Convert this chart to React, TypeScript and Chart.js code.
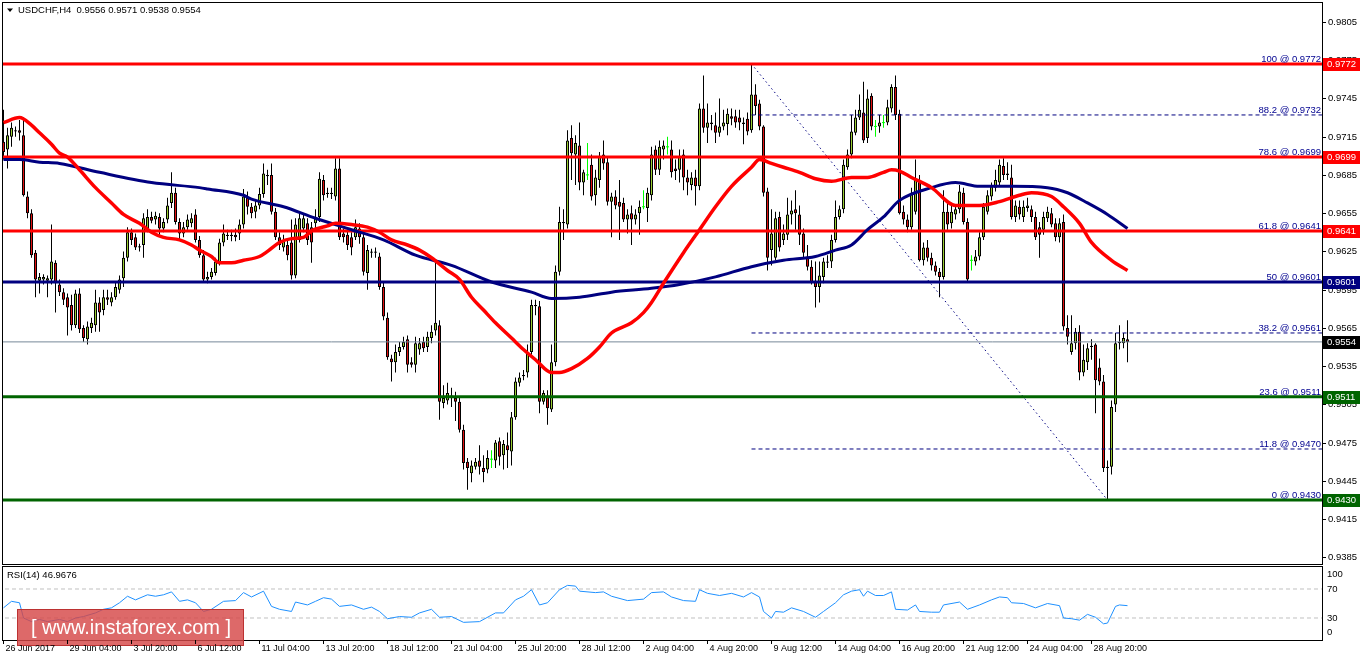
import React, { useEffect, useRef } from 'react';
import { Chart, registerables } from 'chart.js';

Chart.register(...registerables);

const FONT = '"Liberation Sans", Arial, sans-serif';
Chart.defaults.font.family = FONT;

// ---- price data (price x 10000), one value per H4 bar ----
const opens = [
  9711,9705,9715,9719,9720,9716,9668,9655,9624,9602,
  9603,9602,9603,9616,9599,9593,9589,9583,9567,9592,
  9565,9556,9565,9567,9585,9579,9589,9585,9589,9595,
  9604,9620,9640,9636,9629,9630,9642,9652,9650,9652,
  9643,9650,9663,9671,9648,9639,9644,9647,9654,9634,
  9622,9603,9605,9608,9616,9632,9637,9637,9638,9639,
  9646,9667,9660,9656,9661,9670,9684,9685,9656,9636,
  9628,9630,9632,9606,9634,9643,9647,9644,9647,9652,
  9681,9670,9670,9668,9690,9639,9638,9636,9636,9643,
  9636,9608,9624,9624,9621,9597,9573,9541,9538,9546,
  9550,9556,9538,9536,9548,9554,9550,9557,9563,9567,
  9506,9508,9512,9510,9507,9485,9460,9451,9456,9461,
  9455,9454,9462,9461,9476,9465,9473,9468,9495,9522,
  9527,9530,9546,9582,9582,9507,9512,9501,9538,9609,
  9648,9646,9714,9701,9708,9679,9685,9693,9669,9681,
  9701,9695,9664,9668,9664,9663,9650,9655,9650,9655,
  9660,9659,9669,9705,9689,9705,9707,9705,9690,9689,
  9701,9683,9677,9683,9676,9737,9722,9726,9724,9718,
  9723,9725,9731,9731,9730,9725,9729,9720,9748,9741,
  9723,9672,9626,9620,9652,9634,9638,9654,9658,9654,
  9639,9621,9613,9601,9597,9605,9617,9617,9634,9652,
  9658,9691,9701,9718,9730,9734,9714,9747,9723,9723,
  9726,9726,9737,9754,9733,9656,9650,9644,9656,9681,
  9618,9628,9620,9614,9609,9605,9656,9647,9654,9658,
  9671,9648,9618,9617,9621,9636,9656,9668,9675,9679,
  9692,9686,9683,9652,9660,9652,9659,9658,9652,9644,
  9642,9651,9655,9647,9636,9648,9565,9546,9553,9562,
  9530,9538,9550,9552,9534,9523,9456,9456,9505,9553,
  9553,9556,
];
const highs = [
  9736,9722,9726,9723,9728,9730,9672,9658,9626,9608,
  9607,9606,9646,9618,9603,9596,9592,9591,9595,9596,
  9567,9570,9573,9595,9589,9595,9595,9593,9601,9606,
  9625,9644,9643,9639,9631,9655,9658,9656,9656,9655,
  9651,9667,9687,9675,9651,9648,9654,9655,9658,9637,
  9626,9609,9612,9620,9635,9646,9642,9642,9643,9650,
  9674,9672,9663,9665,9675,9694,9689,9694,9659,9640,
  9638,9634,9650,9651,9655,9655,9651,9648,9658,9687,
  9685,9675,9675,9698,9698,9643,9642,9640,9650,9647,
  9640,9630,9627,9628,9624,9601,9577,9544,9552,9554,
  9558,9559,9542,9558,9557,9558,9562,9567,9618,9571,
  9520,9522,9518,9515,9510,9489,9463,9461,9463,9473,
  9465,9469,9469,9477,9479,9477,9483,9499,9526,9530,
  9532,9552,9587,9587,9586,9516,9516,9552,9614,9660,
  9658,9720,9724,9716,9726,9689,9710,9701,9689,9703,
  9712,9699,9671,9673,9681,9667,9658,9661,9658,9665,
  9673,9675,9707,9708,9712,9712,9715,9712,9697,9705,
  9705,9689,9687,9689,9741,9763,9741,9732,9734,9745,
  9736,9737,9737,9736,9736,9730,9734,9772,9756,9744,
  9724,9675,9658,9656,9656,9646,9667,9665,9673,9661,
  9643,9630,9618,9617,9617,9620,9622,9638,9665,9661,
  9697,9705,9732,9736,9748,9758,9752,9749,9728,9732,
  9732,9744,9756,9763,9736,9661,9654,9675,9697,9685,
  9632,9634,9624,9617,9612,9673,9665,9661,9661,9677,
  9675,9651,9622,9626,9640,9663,9673,9679,9689,9697,
  9698,9695,9693,9665,9665,9665,9667,9661,9656,9648,
  9656,9660,9659,9651,9651,9654,9575,9575,9565,9567,
  9552,9553,9556,9553,9541,9528,9461,9508,9561,9567,
  9561,9571,
];
const lows = [
  9697,9690,9707,9715,9712,9668,9651,9620,9589,9592,
  9599,9589,9599,9577,9590,9583,9559,9563,9565,9561,
  9554,9552,9561,9562,9562,9575,9583,9582,9587,9592,
  9597,9617,9630,9626,9625,9620,9640,9647,9646,9638,
  9640,9647,9659,9646,9634,9636,9642,9644,9632,9620,
  9601,9600,9603,9606,9614,9629,9634,9633,9633,9634,
  9643,9654,9651,9651,9658,9667,9677,9654,9634,9626,
  9625,9618,9603,9604,9632,9640,9630,9616,9643,9648,
  9665,9667,9666,9665,9634,9632,9626,9622,9634,9631,
  9606,9595,9620,9620,9595,9571,9540,9523,9530,9543,
  9548,9530,9534,9530,9544,9546,9546,9553,9559,9493,
  9502,9505,9503,9492,9483,9454,9438,9444,9454,9450,
  9444,9451,9455,9455,9457,9454,9455,9457,9493,9519,
  9524,9526,9544,9575,9498,9505,9489,9499,9535,9606,
  9634,9643,9681,9677,9673,9669,9681,9665,9661,9675,
  9689,9661,9636,9658,9634,9648,9639,9630,9646,9638,
  9658,9648,9665,9685,9685,9697,9701,9683,9681,9679,
  9673,9669,9673,9661,9673,9718,9710,9720,9710,9715,
  9720,9716,9724,9722,9720,9709,9716,9718,9732,9720,
  9668,9610,9614,9618,9625,9630,9634,9646,9642,9630,
  9620,9610,9599,9581,9585,9600,9612,9612,9632,9650,
  9655,9689,9698,9716,9728,9710,9710,9720,9715,9718,
  9722,9724,9734,9728,9654,9646,9640,9642,9654,9617,
  9614,9617,9610,9606,9589,9603,9642,9643,9650,9655,
  9646,9601,9610,9614,9618,9634,9654,9665,9672,9676,
  9681,9681,9650,9648,9650,9648,9656,9648,9634,9620,
  9638,9648,9644,9633,9632,9563,9552,9544,9548,9524,
  9527,9532,9540,9498,9520,9452,9430,9450,9499,9548,
  9549,9538,
];
const closes = [
  9703,9716,9722,9720,9718,9669,9655,9622,9603,9605,
  9605,9604,9617,9600,9593,9587,9581,9567,9592,9564,
  9557,9566,9569,9585,9577,9589,9587,9589,9597,9603,
  9620,9640,9634,9628,9628,9651,9652,9649,9653,9643,
  9648,9661,9671,9648,9639,9644,9650,9651,9634,9622,
  9603,9605,9609,9617,9632,9639,9638,9638,9636,9646,
  9668,9660,9655,9661,9670,9686,9685,9656,9636,9630,
  9634,9622,9606,9646,9651,9651,9634,9632,9652,9682,
  9669,9671,9671,9690,9636,9636,9630,9628,9644,9636,
  9609,9626,9625,9625,9597,9574,9542,9538,9546,9550,
  9554,9536,9536,9553,9553,9549,9558,9562,9569,9507,
  9510,9514,9510,9507,9485,9459,9455,9457,9460,9456,
  9452,9463,9462,9475,9464,9474,9469,9495,9523,9526,
  9528,9545,9583,9583,9507,9514,9502,9538,9609,9648,
  9647,9712,9702,9710,9679,9687,9685,9668,9683,9699,
  9694,9664,9668,9661,9660,9650,9654,9650,9654,9660,
  9660,9671,9701,9689,9707,9708,9707,9687,9688,9699,
  9683,9679,9683,9676,9737,9722,9726,9725,9718,9723,
  9726,9733,9729,9726,9726,9726,9719,9748,9739,9723,
  9671,9620,9639,9651,9628,9639,9654,9657,9655,9638,
  9624,9613,9601,9597,9606,9617,9616,9634,9652,9658,
  9693,9701,9719,9730,9736,9712,9745,9723,9723,9726,
  9726,9738,9754,9732,9655,9650,9644,9671,9681,9618,
  9628,9620,9614,9609,9605,9656,9646,9656,9658,9672,
  9648,9603,9618,9621,9636,9660,9669,9676,9681,9693,
  9685,9685,9652,9661,9654,9660,9661,9652,9636,9638,
  9652,9656,9646,9636,9647,9566,9558,9553,9562,9530,
  9540,9549,9551,9524,9523,9455,9455,9503,9553,9554,
  9557,9554,
];

// moving averages (bar index, value)
const redMaBars = [0,4,7,9,12,14,16,19,23,27,30,34,37,40,44,47,49,52,54,57,60,64,66,69,72,75,77,81,83,87,91,94,97,101,104,107,111,114,117,120,123,127,130,133,137,139,142,146,149,152,157,160,162,165,170,174,178,182,187,189,192,195,199,203,207,212,216,220,222,224,227,232,238,244,249,254,257,262,265,269,272,277,281];
const redMaValues = [9726,9730,9724,9718,9709,9702,9699,9689,9675,9663,9654,9647,9640,9636,9634,9630,9626,9621,9616,9616,9618,9621,9625,9632,9635,9636,9641,9645,9647,9646,9644,9640,9634,9630,9626,9620,9610,9603,9589,9579,9569,9557,9548,9540,9530,9530,9533,9541,9550,9561,9569,9577,9585,9600,9624,9642,9660,9676,9691,9697,9694,9691,9687,9682,9680,9683,9683,9687,9689,9688,9683,9675,9661,9661,9664,9669,9671,9668,9660,9647,9632,9618,9610];
const navyMaBars = [0,4,9,14,24,37,49,51,60,62,70,78,87,95,103,112,122,132,137,144,152,162,169,178,187,195,203,208,212,216,220,224,232,238,244,252,261,266,271,276,281];
const navyMaValues = [9697,9697,9695,9694,9687,9679,9675,9674,9669,9666,9660,9651,9642,9634,9622,9614,9601,9593,9588,9589,9593,9596,9599,9605,9613,9618,9621,9626,9630,9642,9652,9665,9675,9679,9676,9676,9675,9671,9663,9654,9643];

// RSI(14)
const rsiBars = [0,2,4,5,7,9,11,14,16,18,20,23,25,27,29,31,33,36,38,40,42,44,46,48,50,52,55,58,60,62,65,67,69,72,73,76,78,80,82,84,87,90,92,94,96,99,102,104,107,109,112,115,119,123,125,128,130,132,134,136,139,141,143,144,148,150,152,156,160,162,165,167,170,173,174,176,179,182,185,187,189,190,192,193,195,197,200,203,205,208,210,212,214,215,216,218,220,222,223,226,228,229,232,234,235,239,241,244,247,249,251,252,255,258,261,264,265,267,269,271,273,275,276,278,279,281];
const rsiValues = [44,53,51,30,25,28,25,28,25,30,32,37,42,44,51,60,55,62,60,62,66,53,55,51,39,42,53,54,65,59,67,46,42,39,52,48,53,58,56,46,48,42,45,39,29,32,31,37,42,31,32,24,25,37,37,55,60,69,48,51,69,75,74,67,65,66,60,54,56,65,66,59,54,53,69,64,61,64,59,65,59,39,30,39,38,44,39,31,39,51,62,67,69,60,67,61,61,66,42,41,48,39,38,38,48,52,42,48,55,59,58,51,50,44,50,47,30,29,27,35,31,22,23,46,48,47];
const rsiLastText = '46.9676';
const rsiLevels = [70, 30];
const rsiAxisLabels = [100, 70, 30, 0];

// levels
const levelPrices = [9772, 9699, 9641, 9601, 9511, 9430];
const levelColors = ['#ff0000', '#ff0000', '#ff0000', '#000080', '#006400', '#006400'];
const fibLevels = [100, 88.2, 78.6, 61.8, 50, 38.2, 23.6, 11.8, 0];
const fibPrices = [9772, 9732, 9699, 9641, 9601, 9561, 9511, 9470, 9430];
const fibStartBar = 187;
const fibEndBar = 276;
const lastPrice = 9554;
const tagPrices = [9772, 9699, 9641, 9601, 9554, 9511, 9430];
const tagColors = ['#ff0000', '#ff0000', '#ff0000', '#000080', '#000000', '#006400', '#006400'];

// axes
const yTicks = [9385, 9415, 9445, 9475, 9505, 9535, 9565, 9595, 9625, 9655, 9685, 9715, 9745, 9775, 9805];
const xTickLabels = ['26 Jun 2017', '29 Jun 04:00', '3 Jul 20:00', '6 Jul 12:00', '11 Jul 04:00', '13 Jul 20:00', '18 Jul 12:00', '21 Jul 04:00', '25 Jul 20:00', '28 Jul 12:00', '2 Aug 04:00', '4 Aug 20:00', '9 Aug 12:00', '14 Aug 04:00', '16 Aug 20:00', '21 Aug 12:00', '24 Aug 04:00', '28 Aug 20:00'];
const xTickEvery = 16;
const symbolText = 'USDCHF,H4';

const X_MIN = -0.375;
const X_MAX = 329.625;
const P_MIN = 9379.8;
const P_MAX = 9820.6;
const BULL = '#9acd32';
const BEAR = '#e01010';
const DOJI = '#00ff00';
const LABEL_FONT = `9.5px ${FONT}`;
const TIME_FONT = `9px ${FONT}`;

const fmt = (v: number) => (v / 10000).toFixed(4);
const bars = opens.map((_, i) => i);

const hLine = (v: number, color: string, width: number, order: number, from = X_MIN - 1, dash: number[] = []) => ({
  type: 'line',
  data: [{ x: from, y: v }, { x: X_MAX + 1, y: v }],
  borderColor: color,
  borderWidth: width,
  borderDash: dash,
  pointRadius: 0,
  clip: 0,
  order,
});

const mainOverlay = {
  id: 'mainOverlay',
  afterDraw(chart: any) {
    const { ctx, chartArea: a, scales } = chart;
    const ys = scales.y;
    ctx.save();
    ctx.strokeStyle = '#000';
    ctx.lineWidth = 1;
    ctx.strokeRect(a.left + 0.5, a.top + 0.5, a.right - a.left, a.bottom - a.top);

    ctx.font = LABEL_FONT;
    ctx.textAlign = 'left';
    ctx.textBaseline = 'middle';
    ctx.fillStyle = '#000';
    for (const v of yTicks) {
      const py = Math.round(ys.getPixelForValue(v)) + 0.5;
      ctx.beginPath();
      ctx.moveTo(a.right + 1, py);
      ctx.lineTo(a.right + 4, py);
      ctx.stroke();
      ctx.fillText(fmt(v), a.right + 6, py);
    }

    ctx.fillStyle = '#000090';
    ctx.textAlign = 'right';
    ctx.textBaseline = 'alphabetic';
    fibLevels.forEach((lvl, k) => {
      const py = ys.getPixelForValue(fibPrices[k]);
      ctx.fillText(`${lvl} @ ${fmt(fibPrices[k])}`, a.right - 1, py - 2);
    });

    ctx.textAlign = 'left';
    ctx.textBaseline = 'middle';
    tagPrices.forEach((p, k) => {
      const py = Math.round(ys.getPixelForValue(p));
      ctx.fillStyle = tagColors[k];
      ctx.fillRect(a.right + 1, py - 6, 37, 13);
      ctx.fillStyle = '#fff';
      ctx.fillText(fmt(p), a.right + 5, py + 0.5);
    });

    const last = opens.length - 1;
    ctx.fillStyle = '#000';
    ctx.beginPath();
    ctx.moveTo(7, 8.5);
    ctx.lineTo(13, 8.5);
    ctx.lineTo(10, 12);
    ctx.closePath();
    ctx.fill();
    ctx.fillText(`${symbolText}  ${fmt(opens[last])} ${fmt(highs[last])} ${fmt(lows[last])} ${fmt(closes[last])}`, 18, 10.5);
    ctx.restore();
  },
};

const rsiOverlay = {
  id: 'rsiOverlay',
  afterDraw(chart: any) {
    const { ctx, chartArea: a, scales } = chart;
    const xs = scales.x;
    const ys = scales.y;
    ctx.save();
    ctx.strokeStyle = '#000';
    ctx.lineWidth = 1;
    ctx.strokeRect(a.left + 0.5, a.top + 0.5, a.right - a.left, a.bottom - a.top);

    ctx.font = LABEL_FONT;
    ctx.fillStyle = '#000';
    ctx.textAlign = 'left';
    ctx.textBaseline = 'middle';
    rsiAxisLabels.forEach((v) => {
      let py = ys.getPixelForValue(v);
      if (v === 100) py += 7;
      if (v === 0) py -= 7;
      ctx.fillText(String(v), a.right + 5, py);
    });
    ctx.fillText(`RSI(14) ${rsiLastText}`, 7, 10);

    // watermark
    ctx.fillStyle = 'rgba(214, 72, 72, 0.82)';
    ctx.fillRect(17, 44, 227, 37);
    ctx.strokeStyle = 'rgba(185, 45, 45, 0.9)';
    ctx.strokeRect(17.5, 44.5, 226, 36);
    ctx.fillStyle = '#ffffff';
    ctx.font = `20px ${FONT}`;
    ctx.textAlign = 'center';
    ctx.fillText('[ www.instaforex.com ]', 131, 63.5);

    // time axis
    ctx.font = TIME_FONT;
    ctx.textAlign = 'left';
    ctx.fillStyle = '#000';
    ctx.strokeStyle = '#000';
    xTickLabels.forEach((label, k) => {
      const px = Math.round(xs.getPixelForValue(k * xTickEvery) - 0.5) + 0.5;
      ctx.beginPath();
      ctx.moveTo(px, a.bottom);
      ctx.lineTo(px, a.bottom + 4);
      ctx.stroke();
      ctx.fillText(label, px + 2, a.bottom + 8.5);
    });
    ctx.restore();
  },
};

function mainConfig(): any {
  const isDoji = (i: number) => opens[i] === closes[i];
  const bodyBars = bars.filter((i) => !isDoji(i));
  const datasets: any[] = [
    {
      type: 'bar',
      data: bars.map((i) => ({ x: i, y: [lows[i], highs[i]] })),
      backgroundColor: bars.map((i) => (isDoji(i) ? DOJI : '#000000')),
      barThickness: 1,
      grouped: false,
      inflateAmount: 0,
      order: 10,
    },
    {
      type: 'bar',
      data: bodyBars.map((i) => ({ x: i, y: [opens[i], closes[i]] })),
      backgroundColor: bodyBars.map((i) => (closes[i] > opens[i] ? BULL : BEAR)),
      borderColor: '#000000',
      borderWidth: 1,
      borderSkipped: false,
      barThickness: 3,
      grouped: false,
      inflateAmount: 0,
      order: 9,
    },
    {
      type: 'line',
      showLine: false,
      data: bars.filter(isDoji).map((i) => ({ x: i, y: opens[i] })),
      pointStyle: 'line',
      pointRadius: 1.5,
      pointBorderColor: DOJI,
      pointBorderWidth: 1,
      borderColor: DOJI,
      order: 8,
    },
    hLine(lastPrice, '#778899', 1, 7),
    ...fibPrices.map((p) => hLine(p, '#000080', 1, 6, fibStartBar, [4, 3])),
    {
      type: 'line',
      data: [{ x: fibStartBar, y: fibPrices[0] }, { x: fibEndBar, y: fibPrices[fibPrices.length - 1] }],
      borderColor: '#000080',
      borderWidth: 1,
      borderDash: [1.5, 3],
      pointRadius: 0,
      clip: 0,
      order: 6,
    },
    ...levelPrices.map((p, k) => hLine(p, levelColors[k], 3, 5)),
    {
      type: 'line',
      data: navyMaBars.map((b, k) => ({ x: b, y: navyMaValues[k] })),
      borderColor: '#000080',
      borderWidth: 3,
      pointRadius: 0,
      cubicInterpolationMode: 'monotone',
      clip: 0,
      order: 1,
    },
    {
      type: 'line',
      data: redMaBars.map((b, k) => ({ x: b, y: redMaValues[k] })),
      borderColor: '#ff0000',
      borderWidth: 3.5,
      pointRadius: 0,
      cubicInterpolationMode: 'monotone',
      clip: 0,
      order: 0,
    },
  ];
  return {
    type: 'bar',
    data: { datasets },
    options: {
      animation: false,
      responsive: false,
      devicePixelRatio: 1,
      events: [],
      layout: { autoPadding: false, padding: { left: 2, right: 40, top: 2, bottom: 2 } },
      plugins: { legend: { display: false }, tooltip: { enabled: false } },
      scales: {
        x: { type: 'linear', min: X_MIN, max: X_MAX, offset: false, display: false },
        y: { type: 'linear', min: P_MIN, max: P_MAX, display: false },
      },
    },
    plugins: [mainOverlay],
  };
}

function rsiConfig(): any {
  return {
    type: 'line',
    data: {
      datasets: [
        ...rsiLevels.map((v) => hLine(v, '#c0c0c0', 1, 2, X_MIN - 1, [4, 3])),
        {
          type: 'line',
          data: rsiBars.map((b, k) => ({ x: b, y: rsiValues[k] })),
          borderColor: '#1e90ff',
          borderWidth: 1,
          pointRadius: 0,
          tension: 0,
          clip: 0,
          order: 0,
        },
      ],
    },
    options: {
      animation: false,
      responsive: false,
      devicePixelRatio: 1,
      events: [],
      layout: { autoPadding: false, padding: { left: 2, right: 40, top: 1, bottom: 21 } },
      plugins: { legend: { display: false }, tooltip: { enabled: false } },
      scales: {
        x: { type: 'linear', min: X_MIN, max: X_MAX, offset: false, display: false },
        y: { type: 'linear', min: -0.35, max: 101.7, display: false },
      },
    },
    plugins: [rsiOverlay],
  };
}

export default function App() {
  const mainRef = useRef<HTMLCanvasElement>(null);
  const rsiRef = useRef<HTMLCanvasElement>(null);
  useEffect(() => {
    document.body.style.margin = '0';
    const c1 = new Chart(mainRef.current as HTMLCanvasElement, mainConfig());
    const c2 = new Chart(rsiRef.current as HTMLCanvasElement, rsiConfig());
    return () => {
      c1.destroy();
      c2.destroy();
    };
  }, []);
  return (
    <div style={{ position: 'relative', width: 1362, height: 661, background: '#ffffff', overflow: 'hidden' }}>
      <canvas ref={mainRef} width={1362} height={566} style={{ position: 'absolute', left: 0, top: 0 }} />
      <canvas ref={rsiRef} width={1362} height={96} style={{ position: 'absolute', left: 0, top: 565 }} />
    </div>
  );
}
